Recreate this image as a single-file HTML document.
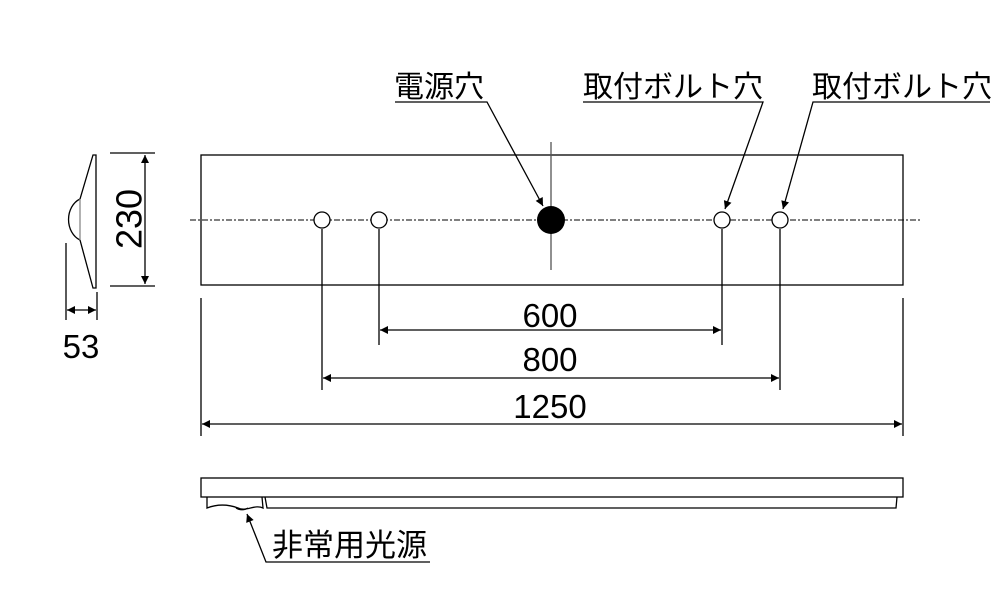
<!DOCTYPE html>
<html><head><meta charset="utf-8"><style>html,body{margin:0;background:#fff}svg{display:block}</style></head><body>
<svg width="1000" height="600" viewBox="0 0 1000 600" xmlns="http://www.w3.org/2000/svg">
<defs>
<marker id="a" viewBox="0 0 10 10" refX="10" refY="5" markerWidth="10" markerHeight="8" markerUnits="userSpaceOnUse" orient="auto-start-reverse"><path d="M0,0 L10,5 L0,10z" fill="#000"/></marker>
</defs>
<g fill="none" stroke="#000" stroke-width="1.3">
<path d="M96,155 L96,288 L93,288 L80,240 A18,22 0 0 1 80,199 L93,155 Z"/>
<line x1="80" y1="199" x2="80" y2="240" stroke="#888"/>
<line x1="110" y1="153" x2="155" y2="153"/>
<line x1="110" y1="286" x2="155" y2="286"/>
<line x1="145" y1="155" x2="145" y2="284" marker-start="url(#a)" marker-end="url(#a)"/>
<line x1="66" y1="243" x2="66" y2="320"/>
<line x1="97" y1="292" x2="97" y2="320"/>
<line x1="67" y1="310" x2="96" y2="310" marker-start="url(#a)" marker-end="url(#a)"/>
<rect x="201" y="155" width="702" height="130"/>
<line x1="190" y1="220" x2="920" y2="220" stroke-dasharray="6,2,2,2" stroke-width="1"/>
<line x1="551" y1="142" x2="551" y2="270" stroke="#555"/>
<circle cx="322" cy="220" r="8" fill="#fff"/>
<circle cx="379" cy="220" r="8" fill="#fff"/>
<circle cx="722" cy="220" r="8" fill="#fff"/>
<circle cx="780" cy="220" r="8" fill="#fff"/>
<line x1="379" y1="229" x2="379" y2="345"/>
<line x1="722" y1="229" x2="722" y2="345"/>
<line x1="322" y1="229" x2="322" y2="390"/>
<line x1="780" y1="229" x2="780" y2="390"/>
<line x1="201" y1="298" x2="201" y2="436"/>
<line x1="903" y1="298" x2="903" y2="436"/>
<line x1="380" y1="330" x2="721" y2="330" marker-start="url(#a)" marker-end="url(#a)"/>
<line x1="323" y1="378" x2="779" y2="378" marker-start="url(#a)" marker-end="url(#a)"/>
<line x1="202" y1="424" x2="902" y2="424" marker-start="url(#a)" marker-end="url(#a)"/>
<polyline points="395,102 487,102 543,206" marker-end="url(#a)"/>
<polyline points="583,102 763,102 725,209" marker-end="url(#a)"/>
<polyline points="990,102 813,102 783,209" marker-end="url(#a)"/>
<rect x="201" y="478" width="702" height="19"/>
<path d="M207,497 L207,508 C220,503 230,505 238,508 C246,512 255,504 263,508 L262,497"/>
<path d="M236,508 A8,5 0 0 0 248,508" />
<path d="M265,497 L267,508 L896,508 L897,497"/>
<polyline points="247,514 266,562 430,562" marker-start="url(#a)"/>
</g>
<circle cx="551" cy="220" r="14" fill="#000"/>
<g font-family="'Liberation Sans','Noto Sans CJK JP',sans-serif" font-size="33" fill="#000">
<text x="132" y="219" text-anchor="middle" transform="rotate(-90 132 219)" dominant-baseline="middle" font-size="36">230</text>
<text x="81" y="358" text-anchor="middle">53</text>
<text x="550" y="327" text-anchor="middle">600</text>
<text x="550" y="371" text-anchor="middle">800</text>
<text x="550" y="418" text-anchor="middle">1250</text>
<text x="394" y="97" font-size="30">電源穴</text>
<text x="583" y="97" font-size="30">取付ボルト穴</text>
<text x="812" y="97" font-size="30">取付ボルト穴</text>
<text x="272" y="556" font-size="31">非常用光源</text>
</g>
</svg>
</body></html>
